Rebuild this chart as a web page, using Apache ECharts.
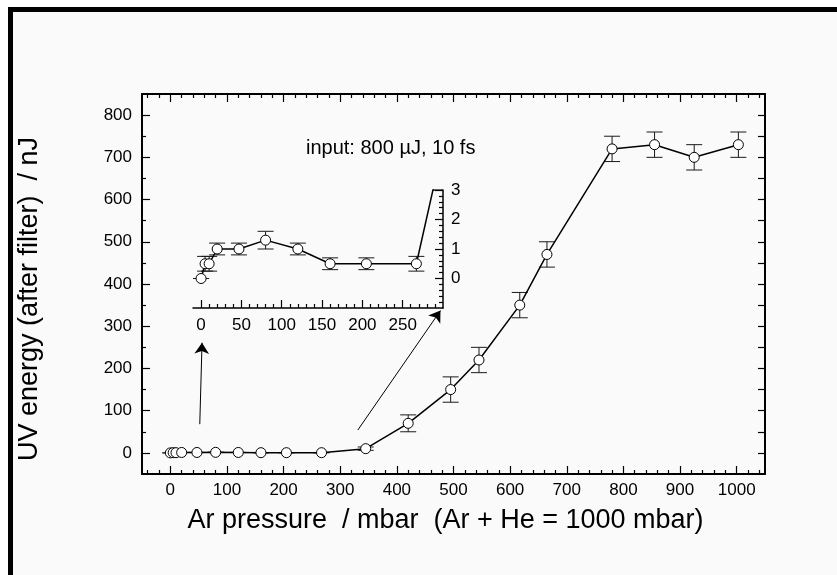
<!DOCTYPE html>
<html>
<head>
<meta charset="utf-8">
<script src="https://cdn.jsdelivr.net/npm/echarts@6/dist/echarts.min.js"></script>
<style>
  html, body { margin: 0; padding: 0; background: #ffffff; }
  #chart { width: 837px; height: 575px; }
</style>
</head>
<body>
<div id="chart"></div>
<script>
// Ar partial pressure (mbar), UV energy after filter (nJ) and its uncertainty (nJ)
const pressure  = [0, 5, 10, 20, 47, 80, 120, 160, 205, 267, 345, 420, 495, 545, 617, 665, 780, 855, 925, 1003];
const energy    = [0, 0.5, 0.5, 1.0, 1.0, 1.3, 1.0, 0.5, 0.5, 0.5, 10, 70, 150, 220, 350, 470, 720, 730, 700, 730];
const energyErr = [0, 0.25, 0.25, 0.2, 0.2, 0.3, 0.2, 0.2, 0.2, 0.25, 4, 20, 30, 30, 30, 30, 30, 30, 30, 30];

// tick labels
const xTicks = [0, 100, 200, 300, 400, 500, 600, 700, 800, 900, 1000];
const yTicks = [0, 100, 200, 300, 400, 500, 600, 700, 800];
const insetXTicks = [0, 50, 100, 150, 200, 250];
const insetYTicks = [0, 1, 2, 3];

// texts
const xTitle = 'Ar pressure  / mbar  (Ar + He = 1000 mbar)';
const yTitle = 'UV energy (after filter)  / nJ';
const noteText = 'input: 800 µJ, 10 fs';

// arrows pointing from the low-pressure data to the magnified view (data coords of main axes)
const arrows = [
  [[52, 68], [56, 261]],
  [[331, 54], [477, 337]]
];

const FONT = "'Liberation Sans', Arial, Helvetica, sans-serif";

// evenly spaced values, skipping those that fall on a major step
function minorValues(from, to, step, major) {
  const out = [];
  const n = Math.round((to - from) / step);
  for (let i = 0; i <= n; i++) {
    const v = +(from + i * step).toFixed(6);
    if (major && Math.abs(v / major - Math.round(v / major)) < 1e-6) continue;
    out.push(v);
  }
  return out;
}

const points = pressure.map((p, i) => [p, energy[i]]);
const errData = pressure.map((p, i) => [p, energy[i] - energyErr[i], energy[i] + energyErr[i]]);

const INSET_X_MAX = 300, INSET_Y_MAX = 3;
// where the curve leaves the top of the magnified view, it runs along the top edge
const edgeRun = (function () {
  for (let i = 1; i < points.length; i++) {
    const a = points[i - 1], b = points[i];
    if (a[1] <= INSET_Y_MAX && b[1] > INSET_Y_MAX) {
      const xc = a[0] + (INSET_Y_MAX - a[1]) / (b[1] - a[1]) * (b[0] - a[0]);
      if (xc < INSET_X_MAX) return [[xc, INSET_Y_MAX], [INSET_X_MAX, INSET_Y_MAX]];
    }
  }
  return [];
})();

function errorBarItem(capHalf) {
  return function (params, api) {
    const x = api.value(0);
    const lo = api.coord([x, api.value(1)]);
    const hi = api.coord([x, api.value(2)]);
    const st = { stroke: '#1a1a1a', lineWidth: 1 };
    return {
      type: 'group',
      children: [
        { type: 'line', shape: { x1: lo[0], y1: lo[1], x2: hi[0], y2: hi[1] }, style: st },
        { type: 'line', shape: { x1: lo[0] - capHalf, y1: lo[1], x2: lo[0] + capHalf, y2: lo[1] }, style: st },
        { type: 'line', shape: { x1: hi[0] - capHalf, y1: hi[1], x2: hi[0] + capHalf, y2: hi[1] }, style: st }
      ]
    };
  };
}

const black = '#000';
const plain = v => String(v);
const labelStyle = { color: black, fontFamily: FONT, formatter: plain };

function frameAxis(extra) {
  return Object.assign({
    type: 'value',
    splitLine: { show: false },
    axisLine: { show: true, onZero: false, lineStyle: { color: black, width: 2 } },
    axisTick: { show: true, inside: true, length: 8, lineStyle: { color: black, width: 1.2 } },
    axisLabel: { show: false }
  }, extra);
}
function minorAxis(extra, values, len) {
  return Object.assign({
    type: 'value',
    splitLine: { show: false },
    axisLine: { show: false, onZero: false },
    axisTick: { show: true, inside: true, length: len || 4, customValues: values, lineStyle: { color: black, width: 1.2 } },
    axisLabel: { show: false }
  }, extra);
}

const mainRect = { left: 142, top: 94, width: 623, height: 380 };
const insetRect = { left: 193, top: 190, width: 250, height: 118 };

const option = {
  animation: false,
  backgroundColor: '#ffffff',
  graphic: [
    {
      type: 'rect', z: -10,
      shape: { x: 10.5, y: 9.5, width: 900, height: 700 },
      style: { fill: '#fafafa', stroke: black, lineWidth: 5 }
    },
    {
      type: 'text', left: 306, top: 138,
      style: { text: noteText, fill: black, font: '20px ' + FONT }
    }
  ],
  grid: [
    Object.assign({}, mainRect),
    Object.assign({}, mainRect),
    Object.assign({}, insetRect),
    Object.assign({}, insetRect)
  ],
  xAxis: [
    frameAxis({
      gridIndex: 0, position: 'bottom', min: -50, max: 1050,
      axisTick: { show: true, inside: true, length: 8, customValues: xTicks, lineStyle: { color: black, width: 1.2 } },
      axisLabel: Object.assign({ show: true, customValues: xTicks, fontSize: 17, margin: 8 }, labelStyle),
      name: xTitle, nameLocation: 'middle', nameGap: 33,
      nameTextStyle: { fontSize: 27, color: black, fontFamily: FONT, padding: [0, 16, 0, 0] }
    }),
    frameAxis({
      gridIndex: 0, position: 'top', min: -50, max: 1050,
      axisTick: { show: true, inside: true, length: 8, customValues: xTicks, lineStyle: { color: black, width: 1.2 } }
    }),
    minorAxis({ gridIndex: 1, position: 'bottom', min: -50, max: 1050 }, minorValues(-40, 1040, 20, 100)),
    minorAxis({ gridIndex: 1, position: 'top', min: -50, max: 1050 }, minorValues(-40, 1040, 20, 100)),
    frameAxis({
      gridIndex: 2, position: 'bottom', min: -10, max: INSET_X_MAX,
      axisLine: { show: true, onZero: false, lineStyle: { color: black, width: 1.5 } },
      axisTick: { show: true, inside: true, length: 8, customValues: insetXTicks, lineStyle: { color: black, width: 1.2 } },
      axisLabel: Object.assign({ show: true, customValues: insetXTicks, fontSize: 17, margin: 9 }, labelStyle)
    }),
    minorAxis({ gridIndex: 3, position: 'bottom', min: -10, max: INSET_X_MAX }, minorValues(10, 290, 10, 50))
  ],
  yAxis: [
    frameAxis({
      gridIndex: 0, position: 'left', min: -50, max: 850,
      axisTick: { show: true, inside: true, length: 8, customValues: yTicks, lineStyle: { color: black, width: 1.2 } },
      axisLabel: Object.assign({ show: true, customValues: yTicks, fontSize: 17, margin: 10 }, labelStyle),
      name: yTitle, nameLocation: 'middle', nameGap: 99,
      nameTextStyle: { fontSize: 27, color: black, fontFamily: FONT, padding: [0, 30, 0, 0] }
    }),
    frameAxis({
      gridIndex: 0, position: 'right', min: -50, max: 850,
      axisTick: { show: true, inside: true, length: 7, customValues: minorValues(0, 800, 50, 0), lineStyle: { color: black, width: 1.2 } }
    }),
    minorAxis({ gridIndex: 1, position: 'left', min: -50, max: 850 }, minorValues(50, 750, 100, 0)),
    frameAxis({
      gridIndex: 2, position: 'right', min: -1, max: INSET_Y_MAX,
      axisLine: { show: true, onZero: false, lineStyle: { color: black, width: 1.5 } },
      axisTick: { show: true, inside: true, length: 8, customValues: insetYTicks, lineStyle: { color: black, width: 1.2 } },
      axisLabel: Object.assign({ show: true, customValues: insetYTicks, fontSize: 17, margin: 8 }, labelStyle)
    }),
    minorAxis({ gridIndex: 3, position: 'right', min: -1, max: INSET_Y_MAX }, minorValues(-0.8, 2.8, 0.2, 1))
  ],
  series: [
    {
      type: 'custom', name: 'err', xAxisIndex: 0, yAxisIndex: 0, z: 2,
      renderItem: errorBarItem(8), data: errData,
      encode: { x: 0, y: [1, 2] }, silent: true
    },
    {
      type: 'line', name: 'UV energy', xAxisIndex: 0, yAxisIndex: 0, z: 3,
      data: points, symbol: 'circle', symbolSize: 10, showAllSymbol: true,
      lineStyle: { color: black, width: 1.5 },
      itemStyle: { color: '#ffffff', borderColor: black, borderWidth: 1 },
      silent: true,
      markLine: {
        silent: true, symbol: ['none', 'arrow'], symbolSize: 11,
        lineStyle: { color: black, width: 1, type: 'solid' },
        itemStyle: { color: black },
        label: { show: false },
        emphasis: { disabled: true },
        data: arrows.map(a => [{ coord: a[0] }, { coord: a[1] }])
      }
    },
    {
      type: 'custom', name: 'err inset', xAxisIndex: 4, yAxisIndex: 3, z: 2, clip: true,
      renderItem: errorBarItem(8), data: errData.filter(d => d[0] <= INSET_X_MAX),
      encode: { x: 0, y: [1, 2] }, silent: true
    },
    {
      type: 'line', name: 'UV energy inset', xAxisIndex: 4, yAxisIndex: 3, z: 3, clip: true,
      data: points, symbol: 'circle', symbolSize: 10, showAllSymbol: true,
      lineStyle: { color: black, width: 1.5 },
      itemStyle: { color: '#ffffff', borderColor: black, borderWidth: 1 },
      silent: true
    },
    {
      type: 'line', name: 'edge', xAxisIndex: 4, yAxisIndex: 3, z: 3,
      data: edgeRun, symbol: 'none', lineStyle: { color: black, width: 1.5 }, silent: true
    }
  ]
};

const chart = echarts.init(document.getElementById('chart'), null, { renderer: 'canvas' });
chart.setOption(option);
</script>
</body>
</html>
